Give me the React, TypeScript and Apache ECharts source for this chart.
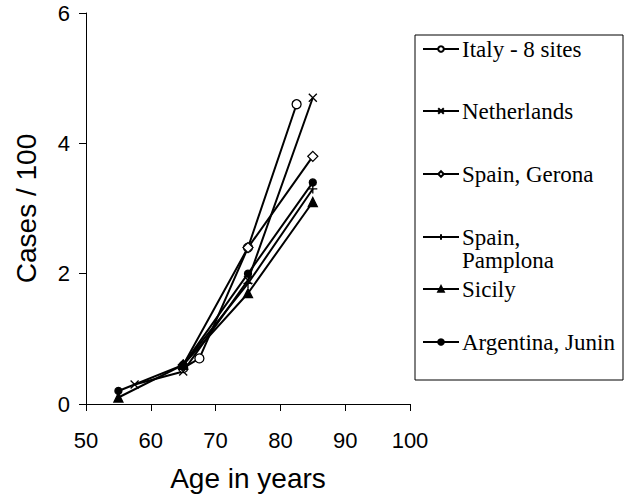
import React, { useEffect, useRef } from "react";
import * as echarts from "echarts";

const seriesNames = [
  "Italy - 8 sites",
  "Netherlands",
  "Spain, Gerona",
  "Spain, Pamplona",
  "Sicily",
  "Argentina, Junin",
];

const italy = [[65, 0.55], [67.5, 0.7], [75, 2.4], [82.5, 4.6]];
const netherlands = [[57.5, 0.3], [65, 0.5], [75, 1.9], [85, 4.7]];
const spainGerona = [[65, 0.6], [75, 2.4], [85, 3.8]];
const spainPamplona = [[65, 0.6], [75, 1.85], [85, 3.3]];
const sicily = [[55, 0.1], [65, 0.6], [75, 1.7], [85, 3.1]];
const argentina = [[55, 0.2], [65, 0.6], [75, 2.0], [85, 3.4]];

const seriesData = [italy, netherlands, spainGerona, spainPamplona, sicily, argentina];

const xTicks = { min: 50, max: 100, interval: 10 };
const yTicks = { min: 0, max: 6, interval: 2 };

const xTitle = "Age in years";
const yTitle = "Cases / 100";

const CROSS = "path://M0,0L10,10M10,0L0,10";
const PLUS = "path://M5,0L5,10M0,5L10,5";

const symbols = [
  { symbol: "circle", size: 9, fill: "#fff" },
  { symbol: CROSS, size: 8, fill: "#000" },
  { symbol: "diamond", size: 10, fill: "#fff" },
  { symbol: PLUS, size: 9, fill: "#000" },
  { symbol: "triangle", size: 9, fill: "#000" },
  { symbol: "circle", size: 7, fill: "#000" },
];

// legend labels (first line shown by the legend, wrapped remainder drawn below)
const legendLabels = ["Italy - 8 sites", "Netherlands", "Spain, Gerona", "Spain,", "Sicily", "Argentina, Junin"];
const legendWrap = ["", "", "", "Pamplona", "", ""];
const legendCenters = [49, 111, 174, 237, 289, 342];

export default function App() {
  const ref = useRef<HTMLDivElement>(null);
  useEffect(() => {
    if (!ref.current) return;
    const chart = echarts.init(ref.current, undefined, { renderer: "svg" });
    const sans = '"Liberation Sans", Arial, sans-serif';
    const serif = '"Liberation Serif", "Times New Roman", serif';
    const lineH = 23;
    const wrapTexts: any[] = [];
    legendWrap.forEach((w, i) => {
      if (w) {
        wrapTexts.push({
          type: "text",
          x: 462,
          y: legendCenters[i] + 23,
          style: { text: w, fontFamily: serif, fontSize: 23, fill: "#000", verticalAlign: "middle", align: "left" },
          silent: true,
        });
      }
    });
    chart.setOption({
      animation: false,
      backgroundColor: "#fff",
      grid: { left: 86, top: 13, width: 324, height: 391, containLabel: false, outerBoundsMode: "none" },
      xAxis: {
        type: "value",
        min: xTicks.min,
        max: xTicks.max,
        interval: xTicks.interval,
        name: xTitle,
        nameLocation: "middle",
        nameGap: 60,
        nameTextStyle: { fontFamily: sans, fontSize: 28, color: "#000" },
        axisLine: { show: true, lineStyle: { color: "#000", width: 1 } },
        axisTick: { show: true, inside: false, length: 7, lineStyle: { color: "#000" } },
        axisLabel: { margin: 25, fontFamily: sans, fontSize: 22, color: "#000" },
        splitLine: { show: false },
      },
      yAxis: {
        type: "value",
        min: yTicks.min,
        max: yTicks.max,
        interval: yTicks.interval,
        name: yTitle,
        nameLocation: "middle",
        nameGap: 46,
        nameTextStyle: { fontFamily: sans, fontSize: 28, color: "#000" },
        axisLine: { show: true, lineStyle: { color: "#000", width: 1 } },
        axisTick: { show: true, inside: false, length: 7, lineStyle: { color: "#000" } },
        axisLabel: { margin: 16, fontFamily: sans, fontSize: 22, color: "#000" },
        splitLine: { show: false },
      },
      legend: seriesNames.map((n, i) => ({
        data: [n],
        left: 422,
        top: legendCenters[i] - lineH / 2,
        orient: "vertical",
        padding: 0,
        itemGap: 0,
        itemWidth: 36,
        itemHeight: 7,
        selectedMode: false,
        formatter: () => legendLabels[i],
        textStyle: {
          fontFamily: serif,
          fontSize: 23,
          lineHeight: lineH,
          color: "#000",
          padding: [0, 0, 0, -2],
        },
      })),
      graphic: [
        {
          type: "rect",
          shape: { x: 415, y: 35, width: 208, height: 345 },
          style: { fill: "none", stroke: "#000", lineWidth: 1 },
          silent: true,
          z: 10,
        },
        ...wrapTexts,
      ],
      series: seriesNames.map((n, i) => ({
        name: n,
        type: "line",
        data: seriesData[i],
        symbol: symbols[i].symbol,
        symbolSize: symbols[i].size,
        showAllSymbol: true,
        lineStyle: { color: "#000", width: 2 },
        itemStyle: { color: symbols[i].fill, borderColor: "#000", borderWidth: 1.3 },
        emphasis: { disabled: true },
      })),
    });
    return () => chart.dispose();
  }, []);
  return (
    <div
      ref={ref}
      style={{ position: "fixed", left: 0, top: 0, width: 626, height: 494, background: "#fff" }}
    />
  );
}
